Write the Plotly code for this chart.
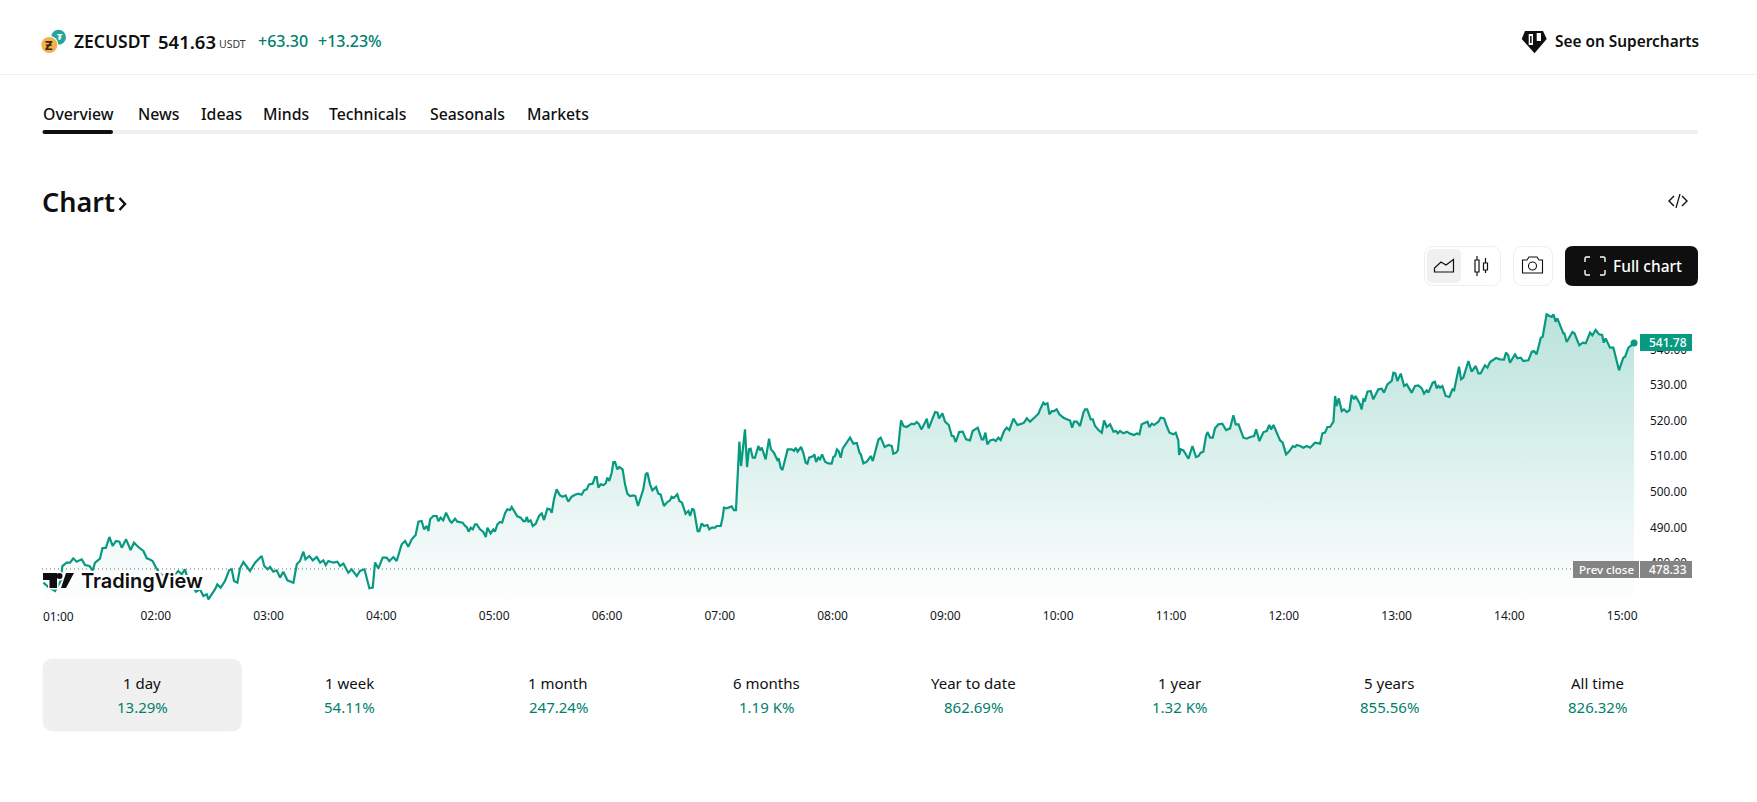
import plotly.graph_objects as go

WIDTH, HEIGHT = 1757, 802

symbol = "ZECUSDT"
last_quote = "541.63"
change_abs = "+63.30"
change_pct = "+13.23%"
tabs = ["Overview", "News", "Ideas", "Minds", "Technicals", "Seasonals", "Markets"]
periods = ["1 day", "1 week", "1 month", "6 months", "Year to date", "1 year", "5 years", "All time"]
performance = ["13.29%", "54.11%", "247.24%", "1.19 K%", "862.69%", "1.32 K%", "855.56%", "826.32%"]
hour_labels = ["01:00", "02:00", "03:00", "04:00", "05:00", "06:00", "07:00", "08:00",
               "09:00", "10:00", "11:00", "12:00", "13:00", "14:00", "15:00"]
hour_minutes = [0, 60, 120, 180, 240, 300, 360, 420, 480, 540, 600, 660, 720, 780, 840]
price_ticks = [480, 490, 500, 510, 520, 530, 540]
prev_close = 478.33
last_price = 541.78

# Minutes after 01:00
minutes = [
    0.2, 2.9, 6.4, 9.4, 10.3, 12.6, 14.4, 16.1, 17.9, 20.6, 22.4, 24.7, 26.4, 27.7, 30.3, 31.6, 33.5, 35.3, 37.1,
    38.8, 40.6, 41.9, 44.2, 46.6, 48.4, 50.7, 53.4, 55.2, 56.6, 58.3, 60.1, 62.3, 65.8, 70.2, 72.0, 73.8, 75.5,
    77.3, 80.0, 81.4, 83.5, 85.3, 87.1, 88.0, 89.7, 91.5, 92.7, 94.5, 96.8, 99.0, 100.4, 101.6, 103.4, 104.8,
    106.6, 108.4, 110.1, 112.8, 115.4, 116.3, 117.7, 119.5, 120.8, 122.5, 124.3, 126.1, 127.8, 130.0, 133.2,
    135.0, 136.7, 138.5, 139.6, 141.7, 143.5, 145.6, 147.4, 149.1, 150.4, 151.8, 154.5, 156.6, 158.0, 159.8,
    162.4, 164.2, 166.9, 168.6, 171.0, 173.6, 175.4, 176.6, 178.4, 180.7, 182.8, 184.2, 186.4, 188.1, 190.8,
    192.6, 194.3, 196.1, 198.2, 199.7, 201.4, 202.7, 204.1, 205.0, 205.9,
    207.6, 209.4, 210.3, 211.5, 212.9, 214.4, 216.5, 217.4, 219.2, 220.4, 223.2, 224.5, 225.4, 226.4, 227.5,
    228.6, 229.8, 230.7, 232.5, 234.2, 235.5, 236.4, 238.1, 239.5, 240.4, 241.7, 243.1, 244.2, 245.9, 247.0,
    248.4, 249.3, 251.1, 252.3, 254.1, 255.5, 256.6, 257.3, 258.2, 259.4, 260.5, 262.1, 264.0, 265.3, 266.5,
    268.3, 269.7, 270.6, 271.8, 273.2, 275.0, 276.4, 278.0, 279.4, 281.2, 283.0, 284.8, 286.5, 287.8, 289.2,
    290.4, 292.4, 293.6, 294.5, 295.4, 296.6, 298.1, 299.3, 300.2, 301.2, 302.5, 303.4, 304.3, 305.5, 306.6,
    308.3, 309.6, 310.8, 312.2, 314.0, 315.1, 316.5, 319.3, 320.6, 321.5, 322.9, 324.1, 326.1, 327.3, 328.5,
    330.3, 331.7, 333.5, 334.4, 335.6, 337.4, 338.5, 339.9, 341.8, 343.3, 344.2, 345.4, 346.3, 348.2, 349.1,
    350.4, 351.6, 353.4, 354.4, 355.7, 357.5, 358.3, 360.5, 361.5, 362.2, 363.6, 366.3, 367.5, 368.6, 370.4,
    371.3, 373.4, 374.5, 375.5, 376.4, 377.5, 378.7, 380.5, 381.4, 382.3, 384.4, 386.2, 387.2, 388.8, 390.6,
    391.3, 392.4, 393.3, 396.1, 398.2, 399.5, 400.4, 401.4, 403.2, 404.4, 405.7, 406.6, 407.5, 409.8, 410.3,
    411.2, 412.4, 413.3, 414.4, 416.0, 417.7, 419.5, 420.4, 421.3, 422.3, 423.2, 424.3, 425.4, 427.5, 429.3,
    431.1, 432.9, 434.3, 435.0, 436.4, 438.2, 440.3, 441.4, 444.4, 445.6, 447.7, 449.7, 451.5, 452.3, 453.8,
    454.7, 456.4, 457.7, 459.4, 460.3, 462.1, 463.3, 464.8, 466.0, 467.2, 468.7, 470.1, 471.1, 472.7, 474.5,
    475.8, 476.6, 478.4, 479.8, 481.8, 483.4, 484.3, 485.5, 487.3, 489.2, 491.0, 493.1, 494.5, 495.8, 497.2,
    499.3, 500.2, 501.3, 502.3, 503.8, 505.5, 506.8, 508.2, 509.4, 511.2, 512.6, 514.0, 516.2, 518.3, 520.6,
    521.8, 523.3, 525.0, 527.7, 529.5, 530.4, 532.1, 533.0, 534.3, 535.3, 536.6, 537.8, 539.2, 540.6, 542.8,
    545.4, 546.3, 547.4, 548.4, 549.9, 551.6, 553.4, 554.3, 555.4, 557.3, 558.4, 559.6, 561.4, 563.2, 564.4,
    565.8, 567.6, 569.4, 570.8, 571.7, 572.9, 574.7, 576.5, 578.2, 580.4, 581.8, 583.2, 584.4, 586.2, 587.5,
    588.5, 589.8, 591.0, 593.3, 594.5, 596.3, 597.7, 599.2, 601.3, 602.5, 603.9, 604.3, 605.2, 606.6, 609.3,
    611.4, 613.3, 614.6, 615.8, 617.2, 618.6, 619.4, 620.8, 622.2, 623.4, 625.2, 627.3, 629.3, 631.4, 633.2,
    634.4, 635.9, 638.5, 640.3, 642.1, 644.2, 645.3, 647.0, 649.2, 650.9, 652.3, 653.2, 654.5, 657.1, 658.0,
    659.4, 661.2, 663.0, 664.8, 666.0, 666.9, 668.7,
    670.4, 672.2, 674.0, 676.6, 679.3, 680.5, 681.9, 683.2, 684.6, 686.4, 687.3, 688.1, 689.2, 690.8, 692.0,
    693.5, 694.9, 696.1, 697.4, 698.2, 700.6, 701.4, 702.3, 703.2, 704.5, 706.2, 707.6, 710.3, 712.1, 713.3,
    715.1, 717.4, 718.3, 719.3, 720.4, 722.2, 724.0, 725.4, 728.0, 729.8, 731.6, 733.4, 734.6, 736.0, 736.9,
    739.2, 740.4, 741.3, 742.2, 743.1, 744.3, 746.1, 748.1, 749.7, 750.6, 753.2, 754.3, 755.5, 758.2, 759.9,
    762.1, 763.5, 764.7, 767.0, 768.3, 769.7, 772.9, 775.0, 777.1, 778.2, 779.3, 780.3, 783.0, 784.2, 786.0,
    787.4, 790.1, 791.9, 793.1, 794.5, 796.7, 797.7, 799.8, 801.3, 802.5, 803.4, 804.6, 805.5, 807.3, 808.7,
    809.2, 810.5, 813.5, 814.6, 817.2, 819.0, 820.6, 822.9, 824.1, 825.9, 827.7, 829.3, 830.2, 831.2, 833.5,
    835.3, 838.3, 840.6, 841.5, 843.3, 846.3,
]

prices = [
    474.47, 473.25, 472.13, 475.0, 479.15, 480.09, 480.09, 481.31, 480.37, 481.03, 479.44, 479.15, 477.94, 480.09,
    481.21, 484.12, 484.30, 487.30, 484.77, 486.18, 485.99, 484.30, 486.64, 483.65, 485.71, 484.49, 483.37, 481.31,
    481.03, 480.56, 478.69, 477.0, 475.88, 476.81, 477.75, 476.81, 478.22, 474.94, 473.07, 471.95, 472.60, 470.73,
    471.2, 469.79, 471.2, 472.6, 474.0, 473.07, 474.94, 477.94, 478.22, 474.94, 474.47, 478.5, 480.28, 478.87,
    477.75, 480.09, 481.5, 481.96, 479.15, 478.22, 478.87, 477.56, 477.94, 475.88, 477.56, 475.13, 474.47, 479.62,
    480.56, 483.18, 481.03, 481.96, 480.75, 481.68, 480.09, 480.75, 479.44, 480.56, 480.09, 480.37, 479.15, 479.81,
    477.28, 478.22, 476.35, 477.75, 478.22, 472.88, 473.07, 480.09, 478.5, 481.5, 481.5, 480.56, 481.68, 480.56,
    485.24, 486.18, 484.58, 486.64, 487.86, 491.61, 491.79, 489.45, 490.39, 488.99, 492.26,
    493.2, 493.2, 491.79, 492.73, 491.98, 494.13, 491.79, 491.33, 492.45, 491.61, 491.33, 490.39, 490.11, 488.80,
    489.92, 489.45, 490.86, 490.86, 489.45, 488.70, 487.30, 489.92, 488.33, 489.45, 488.80, 490.86, 491.51, 491.33,
    494.13, 495.07, 494.88, 495.73, 494.32, 493.10, 492.73, 491.79, 491.79, 492.92, 491.61, 491.98, 490.39, 491.04,
    493.38, 493.95, 492.07, 495.26, 495.07, 494.13, 497.88, 500.69, 499.0, 498.63, 499.0, 497.22, 498.63, 499.19,
    499.47, 499.19, 500.41, 500.69, 502.09, 502.28, 504.15, 504.15, 501.16, 502.09, 501.90, 502.37, 503.97, 503.03,
    505.37, 508.37, 508.37, 506.31, 506.96, 506.31, 502.09, 499.47, 498.82, 499.0, 498.82, 496.01, 500.69, 504.90,
    505.37, 502.09, 500.41, 501.34, 499.47, 499.28, 496.01, 496.94, 497.60, 498.63, 498.35, 499.28, 497.41, 496.94,
    493.85, 494.60, 493.2, 495.35, 494.79, 488.98, 488.98, 491.14, 490.39, 490.67, 489.45, 489.92, 489.92, 490.39,
    490.39, 492.73, 495.54, 495.35, 495.91, 494.88, 494.88, 514.08, 507.24, 517.54, 506.96, 511.92, 512.11, 509.58,
    509.58, 512.86, 511.64, 512.39, 509.11, 514.92, 511.92, 510.99, 508.93, 509.40, 506.77, 506.12, 511.92, 511.92,
    511.46, 512.39, 511.27, 512.58, 510.99, 508.18, 507.90, 509.58, 510.05, 510.52, 508.37, 509.58, 509.11, 510.52,
    508.46, 507.99, 507.90, 509.77, 510.05, 511.92, 511.46, 509.58, 512.20, 513.80, 515.20,
    513.52, 513.70, 510.99, 510.52, 507.99, 508.46, 510.05, 508.65, 514.73, 515.20, 512.58, 513.14, 512.86, 510.71,
    510.99, 511.64, 520.07, 518.48, 518.2, 518.48, 519.14, 518.95, 519.6, 518.95, 517.54, 518.95, 520.54, 517.82,
    520.07, 522.41, 522.22, 520.63, 522.04, 519.70, 518.76, 515.67, 515.67, 513.99, 516.79, 516.89, 514.73, 514.45,
    517.08, 517.54, 518.01, 514.73, 514.73, 516.61, 513.33, 514.45, 514.73, 514.27, 515.20, 514.55, 517.08, 518.01,
    517.36, 520.54, 518.76, 519.14, 519.42, 520.63, 519.70, 521.01, 521.94, 523.16, 525.03, 524.57, 524.85, 521.76,
    522.69, 522.69, 523.16, 521.76, 520.82, 520.17, 520.07, 518.01, 519.70, 519.70, 518.48, 522.22, 523.16, 523.16,
    520.35, 520.35, 518.48, 517.36, 516.61, 520.07, 518.2, 518.95, 516.89, 517.08, 516.42, 517.08, 516.42, 516.89,
    516.33, 515.95, 516.42, 516.14, 518.95, 519.42, 519.70, 518.2, 519.14, 518.76, 519.70, 520.82, 520.63, 518.48,
    516.61, 516.14, 516.61, 514.45, 510.33, 511.93, 511.64, 509.30, 512.86, 509.77, 510.05, 510.99, 511.27, 515.67,
    516.79, 515.20, 515.20, 517.82, 518.95, 519.14, 517.36, 517.82, 521.48, 518.95, 518.95, 515.20, 514.92, 515.39,
    515.67, 517.54, 514.27, 516.79, 517.08, 518.76, 517.54, 518.76, 515.67, 514.45, 513.80, 510.52, 511.46, 512.86,
    512.58, 513.14, 512.86,
    512.40, 512.87, 512.40, 513.81, 513.53, 516.43, 516.62, 518.21, 518.21, 519.71, 526.92, 524.11, 526.26, 522.70,
    523.17, 522.42, 522.89, 527.20, 525.98, 526.92, 524.57, 523.17, 525.98, 525.70, 528.13, 528.32, 525.98, 528.79,
    528.98, 527.85, 530.19, 531.13, 533.47, 533.28, 531.13, 533.19, 529.72, 530.19, 527.85, 529.72, 529.91, 529.07,
    527.57, 528.51, 527.85, 530.66, 530.94, 529.07, 529.72, 529.26, 529.72, 526.92, 526.63, 528.79, 528.51, 535.16,
    531.60, 532.07, 536.75, 533.75, 535.34, 533.28, 533.28, 535.53, 534.87, 536.47, 537.59, 537.21, 537.12, 539.09,
    538.43, 536.28, 538.62, 537.50, 537.68, 536.75, 536.93, 539.37, 539.56, 538.62, 543.30, 543.58, 549.85, 549.39,
    549.11, 549.85, 547.79, 548.73, 546.58, 544.52, 544.52, 542.08, 544.89, 544.52, 541.15, 541.90, 541.71, 544.71,
    543.96, 545.45, 544.24, 544.05, 541.90, 543.11, 540.49, 540.49, 534.12, 537.68, 537.87, 540.49, 541.78,
]

TEAL = "#089981"
TEAL_TEXT = "#007f6d"
INK = "#0f0f0f"
GREY_BOX = "#848484"
SOFT = "#f0f0f0"
BORDER = "#eeeeee"
FONT = "Noto Sans"

# Plot rectangle on the page, in pixels
PLOT_L, PLOT_R, PLOT_T, PLOT_B = 42, 1638, 301, 605


def fx(px):
    return px / WIDTH


def fy(py):
    return 1 - py / HEIGHT


def path(*cmds):
    """Build an SVG path from (letter, x, y, ...) tuples given in page pixels."""
    parts = []
    for c in cmds:
        if c[0] == "Z":
            parts.append("Z")
            continue
        nums = list(c[1:])
        pts = [f"{fx(nums[i]):.6f},{fy(nums[i + 1]):.6f}" for i in range(0, len(nums), 2)]
        parts.append(c[0] + " ".join(pts))
    return " ".join(parts)


def round_rect(x0, y0, x1, y1, r):
    return path(("M", x0 + r, y0), ("L", x1 - r, y0), ("Q", x1, y0, x1, y0 + r), ("L", x1, y1 - r),
                ("Q", x1, y1, x1 - r, y1), ("L", x0 + r, y1), ("Q", x0, y1, x0, y1 - r), ("L", x0, y0 + r),
                ("Q", x0, y0, x0 + r, y0), ("Z",))


shapes = []
annotations = []


def shape_path(d, fill=None, line=None, width=0, layer="above"):
    shapes.append(dict(type="path", xref="paper", yref="paper", path=d, layer=layer,
                       fillcolor=fill or "rgba(0,0,0,0)",
                       line=dict(color=line or "rgba(0,0,0,0)", width=width)))


def rect(x0, y0, x1, y1, fill, layer="above"):
    shapes.append(dict(type="rect", xref="paper", yref="paper", x0=fx(x0), x1=fx(x1), y0=fy(y0), y1=fy(y1),
                       fillcolor=fill, line=dict(width=0), layer=layer))


def circle(cx, cy, r, fill=None, line=None, width=0):
    shapes.append(dict(type="circle", xref="paper", yref="paper", x0=fx(cx - r), x1=fx(cx + r),
                       y0=fy(cy + r), y1=fy(cy - r), fillcolor=fill or "rgba(0,0,0,0)",
                       line=dict(color=line or "rgba(0,0,0,0)", width=width), layer="above"))


def text(s, x, y, size, color=INK, anchor="left", weight=400, family=FONT, shadow=None):
    font = dict(family=family, size=size, color=color, weight=weight)
    if shadow:
        font["shadow"] = shadow
    annotations.append(dict(text=s, x=fx(x), y=fy(y), xref="paper", yref="paper", xanchor=anchor,
                            yanchor="middle", showarrow=False, font=font, borderpad=0))


# Header
circle(58.5, 37.3, 7.5, fill="#26a69a")
circle(49.3, 45, 9.2, fill="#ffffff")
circle(49.3, 45, 8, fill="#f4b04a")
text("₮", 59.5, 36.5, 9, "#ffffff", "center", 700)
text("Ƶ", 49.3, 45, 13, "#3a2a10", "center", 700)
text(symbol, 73, 41.5, 17.5, INK, "left", 600)
text(last_quote, 157, 41.5, 18.5, INK, "left", 600)
text("USDT", 218, 43.5, 10.5, "#3a3a3a")
text(change_abs, 257, 41.5, 16, TEAL_TEXT, "left", 500)
text(change_pct, 317, 41.5, 16, TEAL_TEXT, "left", 500)
text("See on Supercharts", 1553.5, 41.5, 15.4, INK, "left", 600)
shape_path(path(("M", 1525, 31), ("L", 1543, 31), ("L", 1546.7, 39), ("L", 1534.5, 53.3), ("L", 1521.7, 39), ("Z",)), fill=INK)
rect(1528.7, 34, 1533, 45, "#ffffff")
rect(1530.1, 36, 1531.6, 43, INK)
rect(1536.7, 33, 1541, 41, "#ffffff")
rect(0, 74, WIDTH, 75, BORDER)

# Tab strip
tab_left = [41.5, 137, 199.5, 262, 328, 429, 526]
for name, left in zip(tabs, tab_left):
    text(name, left, 114, 15.8, INK, "left", 500)
shape_path(round_rect(42.5, 130, 1698, 134, 2), fill=SOFT)
shape_path(round_rect(42.5, 130, 113, 134, 2), fill=INK)

# Section heading and embed glyph
text("Chart", 41, 201, 27, INK, "left", 600)
shape_path(path(("M", 119.5, 198), ("L", 125, 204), ("L", 119.5, 210)), line=INK, width=2.4)
shape_path(path(("M", 1674, 196), ("L", 1669, 201), ("L", 1674, 206)), line=INK, width=1.4)
shape_path(path(("M", 1682, 196), ("L", 1687, 201), ("L", 1682, 206)), line=INK, width=1.4)
shape_path(path(("M", 1680, 194), ("L", 1676, 208)), line=INK, width=1.2)

# Toolbar
shape_path(round_rect(1424.5, 246.5, 1500.5, 285.5, 9), fill="#ffffff", line=BORDER, width=1)
shape_path(round_rect(1427, 249, 1461, 283, 6), fill=SOFT)
shape_path(path(("M", 1434.5, 272), ("L", 1434.5, 268), ("L", 1441, 262), ("L", 1446, 265), ("L", 1453.5, 259.5),
                ("L", 1453.5, 272), ("Z",)), line=INK, width=1.2)
shape_path(path(("M", 1477, 256), ("L", 1477, 276)), line=INK, width=1.2)
shape_path(path(("M", 1485.5, 258), ("L", 1485.5, 273)), line=INK, width=1.2)
shape_path(path(("M", 1475, 260), ("L", 1479, 260), ("L", 1479, 272), ("L", 1475, 272), ("Z",)), fill="#ffffff", line=INK, width=1.2)
shape_path(path(("M", 1483.5, 263), ("L", 1487.5, 263), ("L", 1487.5, 270), ("L", 1483.5, 270), ("Z",)), fill="#ffffff", line=INK, width=1.2)
shape_path(round_rect(1513.5, 246.5, 1552.5, 285.5, 9), fill="#ffffff", line=BORDER, width=1)
shape_path(path(("M", 1522.5, 260), ("L", 1527, 260), ("L", 1529, 257), ("L", 1537, 257), ("L", 1539, 260),
                ("L", 1542.5, 260), ("L", 1542.5, 273), ("L", 1522.5, 273), ("Z",)), line=INK, width=1.1)
circle(1532.5, 266, 4, line=INK, width=1.1)
shape_path(round_rect(1565, 246, 1698, 286, 8), fill=INK)
for a, b, sx, sy in [(1585, 257, 1, 1), (1605, 257, -1, 1), (1585, 275, 1, -1), (1605, 275, -1, -1)]:
    shape_path(path(("M", a, b + 5 * sy), ("L", a, b + 1.5 * sy), ("Q", a, b, a + 1.5 * sx, b), ("L", a + 5 * sx, b)),
               line="#ffffff", width=1.4)
text("Full chart", 1612, 265.5, 15.5, "#ffffff", "left", 500)

# Price axis tags, drawn over the scale labels they sit on
rect(1640, 334, 1692, 351, TEAL)
text(f"{last_price:.2f}", 1668, 342.5, 12, "#ffffff", "center", 500)
rect(1573, 561, 1639, 578, GREY_BOX)
rect(1640, 561, 1692, 578, GREY_BOX)
text("Prev close", 1606, 569.5, 11.5, "#ffffff", "center", 500)
text(f"{prev_close:.2f}", 1668, 569.5, 12, "#ffffff", "center", 500)

# First hour label is nudged inwards so it stays on the page
text(hour_labels[0], 58.3, 616, 12, "#131722", "center")

# Watermark
halo = "2px 0 0 #fff, -2px 0 0 #fff, 0 2px 0 #fff, 0 -2px 0 #fff, 2px 2px 0 #fff, -2px -2px 0 #fff, 2px -2px 0 #fff, -2px 2px 0 #fff"
text("TradingView", 79.5, 581, 20, INK, "left", 600, "Inter", shadow=halo)
logo_t = path(("M", 43, 573), ("L", 57, 573), ("L", 57, 588), ("L", 49.5, 588), ("L", 49.5, 580), ("L", 43, 580), ("Z",))
logo_v = path(("M", 66, 573), ("L", 74, 573), ("L", 66, 588), ("L", 61, 588), ("Z",))
shape_path(logo_t, fill=INK, line="#ffffff", width=3)
shape_path(logo_v, fill=INK, line="#ffffff", width=3)
circle(59.5, 576, 4.5, fill="#ffffff")
shape_path(logo_t, fill=INK)
shape_path(logo_v, fill=INK)
circle(59.5, 576, 3, fill=INK)

# Performance strip
shape_path(round_rect(42.5, 658.5, 242, 731.5, 12), fill=SOFT)
strip_centers = [142.3, 349.6, 558, 766.4, 973.7, 1179.9, 1389.4, 1597.8]
for name, value, cx in zip(periods, performance, strip_centers):
    text(name, cx, 683, 15, INK, "center")
    text(value, cx, 707, 15, TEAL_TEXT, "center")

# Previous close rule
shapes.append(dict(type="line", xref="paper", yref="y", x0=fx(PLOT_L), x1=fx(1573), y0=prev_close, y1=prev_close,
                   line=dict(color="#6f6f6f", width=1, dash="1px,3px"), layer="below"))

fig = go.Figure()
fig.add_trace(go.Scatter(
    x=minutes, y=prices, mode="lines", fill="tozeroy",
    line=dict(color=TEAL, width=2.2),
    fillgradient=dict(type="vertical", start=468.2, stop=550,
                      colorscale=[[0, "rgba(8,153,129,0.0)"], [1, "rgba(8,153,129,0.28)"]]),
    hoverinfo="skip", showlegend=False,
))
fig.add_trace(go.Scatter(
    x=[minutes[-1]], y=[last_price], mode="markers",
    marker=dict(color=TEAL, size=7), hoverinfo="skip", showlegend=False,
))

fig.update_layout(
    width=WIDTH, height=HEIGHT, margin=dict(l=0, r=0, t=0, b=0),
    paper_bgcolor="#ffffff", plot_bgcolor="rgba(0,0,0,0)",
    font=dict(family=FONT, color="#131722", size=12),
    shapes=shapes, annotations=annotations,
    xaxis=dict(
        domain=[fx(PLOT_L), fx(PLOT_R)], range=[-0.53, 848.4], showgrid=False, zeroline=False, showline=False,
        tickmode="array", tickvals=hour_minutes[1:], ticktext=hour_labels[1:], ticks="", ticklabelstandoff=2,
        tickfont=dict(size=12, color="#131722", family=FONT), fixedrange=True,
    ),
    yaxis=dict(
        domain=[fy(PLOT_B), fy(PLOT_T)], range=[468.2, 553.6], side="right", showgrid=False, zeroline=False,
        showline=False, tickmode="array", tickvals=price_ticks, ticktext=[f"{v:.2f}" for v in price_ticks],
        ticks="", ticklabelstandoff=11, tickfont=dict(size=11.8, color="#131722", family=FONT), fixedrange=True,
    ),
)

fig.write_html("out.html", config=dict(displayModeBar=False))
